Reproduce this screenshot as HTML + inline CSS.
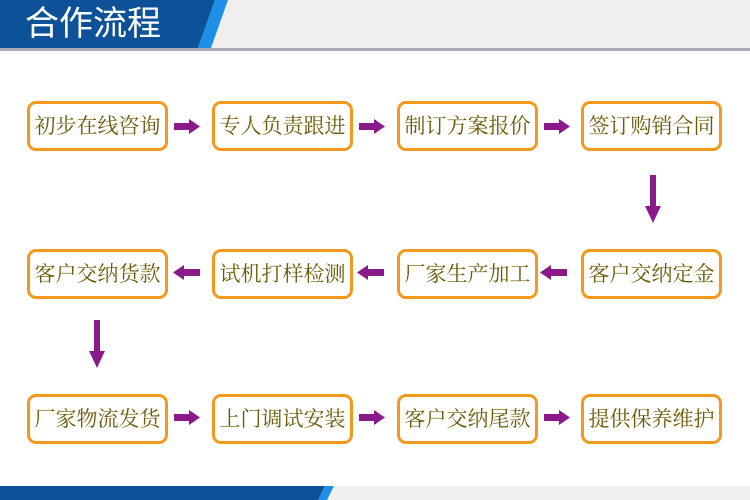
<!DOCTYPE html>
<html><head><meta charset="utf-8"><style>
body{margin:0;width:750px;height:500px;background:#fff;position:relative;overflow:hidden;font-family:"Liberation Serif","Noto Serif CJK SC","Noto Sans CJK SC",serif}
.b{position:absolute;width:135px;height:44px;border:3px solid #f39a1e;border-radius:9px;background:#fff;color:#6a5a05;font-size:21px;line-height:44px;text-align:center;letter-spacing:0px;white-space:nowrap}
svg{position:absolute;left:0;top:0}
</style></head><body>
<svg width="750" height="500">
<rect x="0" y="0" width="750" height="48" fill="#f0efed"/>
<polygon points="0,0 215,0 198,48 0,48" fill="#0d5298"/>
<polygon points="215,0 228,0 211,48 198,48" fill="#1e8fe6"/>
<rect x="0" y="48" width="750" height="3" fill="#a9a9b8"/>
<rect x="0" y="486" width="750" height="14" fill="#f0efed"/>
<polygon points="0,486 325,486 318,500 0,500" fill="#0d5298"/>
<polygon points="325,486 334,486 327,500 318,500" fill="#1e8fe6"/>
<g fill="#8a1a8a">
<rect x="174" y="123" width="16" height="7"/><polygon points="189,119 200,126.5 189,134"/>
<rect x="359" y="123" width="16" height="7"/><polygon points="374,119 385,126.5 374,134"/>
<rect x="544" y="123" width="16" height="7"/><polygon points="559,119 570,126.5 559,134"/>
<rect x="650" y="175" width="6" height="33"/><polygon points="645,206 661,206 653,223"/>
<rect x="550" y="269" width="17" height="7"/><polygon points="551,265 540,272.5 551,280"/>
<rect x="367" y="269" width="17" height="7"/><polygon points="368,265 357,272.5 368,280"/>
<rect x="183" y="269" width="17" height="7"/><polygon points="184,265 173,272.5 184,280"/>
<rect x="94" y="320" width="6" height="33"/><polygon points="89,351 105,351 97,368"/>
<rect x="174" y="414" width="16" height="7"/><polygon points="189,410 200,417.5 189,425"/>
<rect x="359" y="414" width="16" height="7"/><polygon points="374,410 385,417.5 374,425"/>
<rect x="544" y="414" width="16" height="7"/><polygon points="559,410 570,417.5 559,425"/>
</g>
<text x="25" y="35" font-family="Liberation Sans,Noto Sans CJK SC,sans-serif" font-size="34" fill="#fff">合作流程</text>
</svg>
<div class="b" style="left:27px;top:101px">初步在线咨询</div>
<div class="b" style="left:212px;top:101px">专人负责跟进</div>
<div class="b" style="left:397px;top:101px">制订方案报价</div>
<div class="b" style="left:581px;top:101px">签订购销合同</div>
<div class="b" style="left:27px;top:249px">客户交纳货款</div>
<div class="b" style="left:212px;top:249px">试机打样检测</div>
<div class="b" style="left:397px;top:249px">厂家生产加工</div>
<div class="b" style="left:581px;top:249px">客户交纳定金</div>
<div class="b" style="left:27px;top:394px">厂家物流发货</div>
<div class="b" style="left:212px;top:394px">上门调试安装</div>
<div class="b" style="left:397px;top:394px">客户交纳尾款</div>
<div class="b" style="left:581px;top:394px">提供保养维护</div>
</body></html>
